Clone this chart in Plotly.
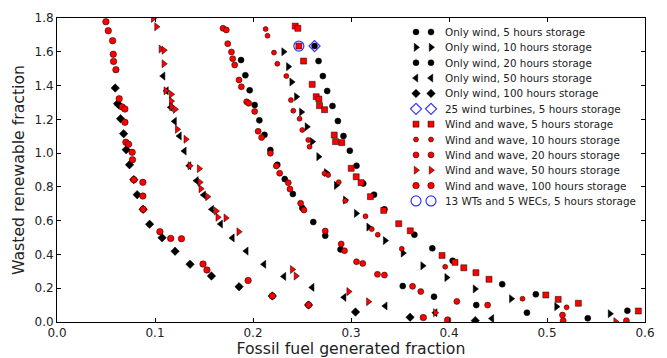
import plotly.graph_objects as go

# ---- data ----
ow5_x = [0.2628,0.2669,0.2713,0.2757,0.2811,0.2866,0.2923,0.2988,0.3056,0.3125,0.3235,0.3341,0.3647,0.3830,0.4037,0.4543,0.4886,0.582]
ow5_y = [1.634,1.545,1.456,1.368,1.279,1.190,1.101,1.014,0.925,0.820,0.754,0.667,0.517,0.436,0.363,0.224,0.164,0.067]

ow10_x = [0.2312,0.236,0.2394,0.2442,0.2493,0.255,0.2604,0.2669,0.2747,0.2849,0.2941,0.3053,0.318,0.3348,0.353,0.3731,0.3976,0.4265,0.4635,0.5097,0.5643]
ow10_y = [1.600,1.512,1.421,1.334,1.243,1.156,1.068,0.979,0.885,0.809,0.722,0.643,0.562,0.482,0.408,0.333,0.263,0.196,0.138,0.091,0.049]

ow20_x = [0.1878,0.1922,0.1966,0.2017,0.2065,0.2117,0.2177,0.2248,0.2324,0.2407,0.2503,0.2615,0.2737,0.2893,0.3528,0.3847,0.4278,0.4795,0.5416]
ow20_y = [1.551,1.461,1.372,1.285,1.194,1.108,1.018,0.931,0.846,0.758,0.675,0.592,0.511,0.430,0.213,0.150,0.100,0.055,0.022]

ow50_x = [0.1083,0.1117,0.116,0.120,0.125,0.130,0.1348,0.1423,0.1497,0.158,0.167,0.179,0.1932,0.2112,0.2316,0.2604,0.2930,0.3350,0.386,0.4438]
ow50_y = [1.456,1.369,1.271,1.188,1.101,1.012,0.925,0.837,0.752,0.667,0.580,0.498,0.420,0.342,0.270,0.205,0.146,0.095,0.055,0.020]

ow100_x = [0.0594,0.0618,0.0632,0.0649,0.068,0.0706,0.074,0.0784,0.0818,0.0879,0.0945,0.1072,0.1205,0.1358,0.1576,0.1858,0.2197,0.2567,0.3046,0.3603,0.4268]
ow100_y = [1.385,1.293,1.285,1.204,1.115,1.020,0.931,0.843,0.754,0.667,0.579,0.499,0.419,0.342,0.272,0.209,0.154,0.1006,0.059,0.028,0.008]

wt25_x = [0.2628]
wt25_y = [1.634]

ww5_x = [0.2431,0.2458,0.2468,0.2516,0.2604,0.2645,0.2672,0.2679,0.273,0.2829,0.2842,0.2906,0.3002,0.3053,0.3103,0.3198,0.3334,0.3487,0.3605,0.3929,0.4061,0.4151,0.4275,0.4408,0.4988,0.5114,0.532,0.5932]
ww5_y = [1.752,1.739,1.634,1.545,1.407,1.334,1.320,1.281,1.257,1.107,1.068,1.062,0.910,0.860,0.825,0.742,0.661,0.582,0.540,0.394,0.353,0.321,0.292,0.253,0.160,0.134,0.111,0.065]

ww10_x = [0.2129,0.2148,0.2214,0.2248,0.234,0.2387,0.2411,0.2475,0.2503,0.2564,0.2577,0.273,0.2767,0.2875,0.2941,0.3148,0.3212,0.3273,0.3518,0.3961,0.475,0.520]
ww10_y = [1.735,1.695,1.595,1.529,1.456,1.314,1.251,1.204,1.137,1.078,1.038,0.880,0.870,0.828,0.718,0.626,0.550,0.517,0.433,0.327,0.138,0.087]

ww20_x = [0.1694,0.1728,0.1742,0.178,0.1793,0.1813,0.1857,0.1881,0.1935,0.1956,0.2017,0.2052,0.2088,0.2177,0.2238,0.2272,0.236,0.2377,0.2486,0.252,0.2737,0.290,0.2934,0.3056,0.312,0.327,0.3341,0.3628,0.3712,0.408,0.4394,0.5158,0.5165,0.581]
ww20_y = [1.739,1.729,1.648,1.599,1.559,1.522,1.433,1.393,1.304,1.295,1.247,1.129,1.092,0.999,0.924,0.881,0.825,0.787,0.703,0.663,0.539,0.462,0.422,0.357,0.347,0.282,0.278,0.211,0.180,0.122,0.100,0.041,0.008,0.008]

ww50_x = [0.0981,0.1015,0.106,0.109,0.109,0.111,0.1165,0.1165,0.1168,0.1205,0.1226,0.1314,0.1355,0.145,0.1457,0.1467,0.1535,0.1623,0.164,0.1722,0.1854,0.2400,0.2438,0.2976,0.3177,0.386,0.570]
ww50_y = [1.798,1.748,1.616,1.609,1.529,1.369,1.348,1.308,1.275,1.259,1.141,1.082,0.925,0.908,0.827,0.789,0.742,0.657,0.620,0.616,0.534,0.311,0.272,0.180,0.120,0.055,0.002]

ww100_x = [0.0499,0.0523,0.0567,0.0574,0.0577,0.0601,0.0635,0.0666,0.0693,0.0693,0.0703,0.073,0.0767,0.077,0.0784,0.0876,0.0876,0.0879,0.105,0.116,0.127,0.149,0.153,0.195,0.2197,0.2567,0.3738,0.3986]
ww100_y = [1.778,1.725,1.666,1.585,1.543,1.494,1.322,1.273,1.261,1.182,1.064,1.052,1.005,0.961,0.843,0.827,0.746,0.667,0.535,0.495,0.493,0.343,0.308,0.246,0.154,0.1006,0.026,0.012]

wec13_x = [0.2468]
wec13_y = [1.634]

x_ticks = [0.0, 0.1, 0.2, 0.3, 0.4, 0.5, 0.6]
y_ticks = [0.0, 0.2, 0.4, 0.6, 0.8, 1.0, 1.2, 1.4, 1.6, 1.8]

series_names = [
    "Only wind, 5 hours storage",
    "Only wind, 10 hours storage",
    "Only wind, 20 hours storage",
    "Only wind, 50 hours storage",
    "Only wind, 100 hours storage",
    "25 wind turbines, 5 hours storage",
    "Wind and wave, 5 hours storage",
    "Wind and wave, 10 hours storage",
    "Wind and wave, 20 hours storage",
    "Wind and wave, 50 hours storage",
    "Wind and wave, 100 hours storage",
    "13 WTs and 5 WECs, 5 hours storage",
]
series_x = [ow5_x, ow10_x, ow20_x, ow50_x, ow100_x, wt25_x, ww5_x, ww10_x, ww20_x, ww50_x, ww100_x, wec13_x]
series_y = [ow5_y, ow10_y, ow20_y, ow50_y, ow100_y, wt25_y, ww5_y, ww10_y, ww20_y, ww50_y, ww100_y, wec13_y]

BLUE = "#3535ff"
styles = [
    ("circle", 6, "black", "black", 0.5),
    ("triangle-right", 7, "black", "black", 0.5),
    ("circle", 6, "black", "black", 0.5),
    ("triangle-left", 7, "black", "black", 0.5),
    ("diamond", 6.5, "black", "black", 0.5),
    ("diamond-open", 8.5, BLUE, BLUE, 1.2),
    ("square", 6, "#ff0000", "black", 0.5),
    ("circle", 5, "#ff0000", "black", 0.5),
    ("circle", 6, "#ff0000", "black", 0.5),
    ("triangle-right", 7, "#ff0000", "black", 0.5),
    ("circle", 6.5, "#ff0000", "black", 0.5),
    ("circle-open", 10, BLUE, BLUE, 1.2),
]

# plot-area geometry in pixels (for the hand-built legend)
L, R, T, B = 57, 22, 18, 36
W, H = 667, 358
PW, PH = W - L - R, H - T - B

def px_to_paper_x(px):
    return (px - L) / PW

def px_to_paper_y(py):
    return (H - B - py) / PH

fig = go.Figure()
for name, xs, ys, st in zip(series_names, series_x, series_y, styles):
    sym, size, color, lcolor, lw = st
    fig.add_trace(go.Scatter(
        x=xs, y=ys, mode="markers", name=name, showlegend=False,
        marker=dict(symbol=sym, size=size, color=color,
                    line=dict(color=lcolor, width=lw)),
    ))

# legend (matplotlib style: two marker samples per entry, no frame)
leg_top_px = 32.0
leg_step_px = 15.36
leg_mark_px = [416, 431]
leg_text_px = 443
annotations = []
for i, (name, st) in enumerate(zip(series_names, styles)):
    sym, size, color, lcolor, lw = st
    py = leg_top_px + i * leg_step_px
    yy = px_to_paper_y(py)
    fig.add_trace(go.Scatter(
        x=[px_to_paper_x(p) for p in leg_mark_px], y=[yy, yy],
        xaxis="x2", yaxis="y2", mode="markers", showlegend=False, hoverinfo="skip",
        marker=dict(symbol=sym, size=size, color=color,
                    line=dict(color=lcolor, width=lw)),
    ))
    annotations.append(dict(
        x=px_to_paper_x(leg_text_px), y=yy, xref="paper", yref="paper",
        text=name, showarrow=False, xanchor="left", yanchor="middle",
        font=dict(family="DejaVu Sans", size=10.4, color="#222222"),
    ))

axis_common = dict(
    showline=True, linecolor="black", linewidth=1, mirror="ticks",
    ticks="inside", ticklen=4, tickcolor="black", tickwidth=1,
    showgrid=False, zeroline=False, automargin=False,
    tickfont=dict(family="DejaVu Sans", size=12, color="#222222"),
    tickformat=".1f",
)

fig.update_layout(
    width=W, height=H,
    margin=dict(l=L, r=R, t=T, b=B, autoexpand=False),
    paper_bgcolor="white", plot_bgcolor="white",
    font=dict(family="DejaVu Sans", color="#222222"),
    xaxis=dict(range=[0, 0.6], tickvals=x_ticks,
               title=dict(text="Fossil fuel generated fraction", font=dict(size=15.7), standoff=3),
               **axis_common),
    yaxis=dict(range=[0, 1.8], tickvals=y_ticks,
               title=dict(text="Wasted renewable fraction", font=dict(size=15.7), standoff=6),
               **axis_common),
    xaxis2=dict(overlaying="x", range=[0, 1], visible=False, fixedrange=True),
    yaxis2=dict(overlaying="y", range=[0, 1], visible=False, fixedrange=True),
    annotations=annotations,
    showlegend=False,
)

fig.write_html("out.html")
